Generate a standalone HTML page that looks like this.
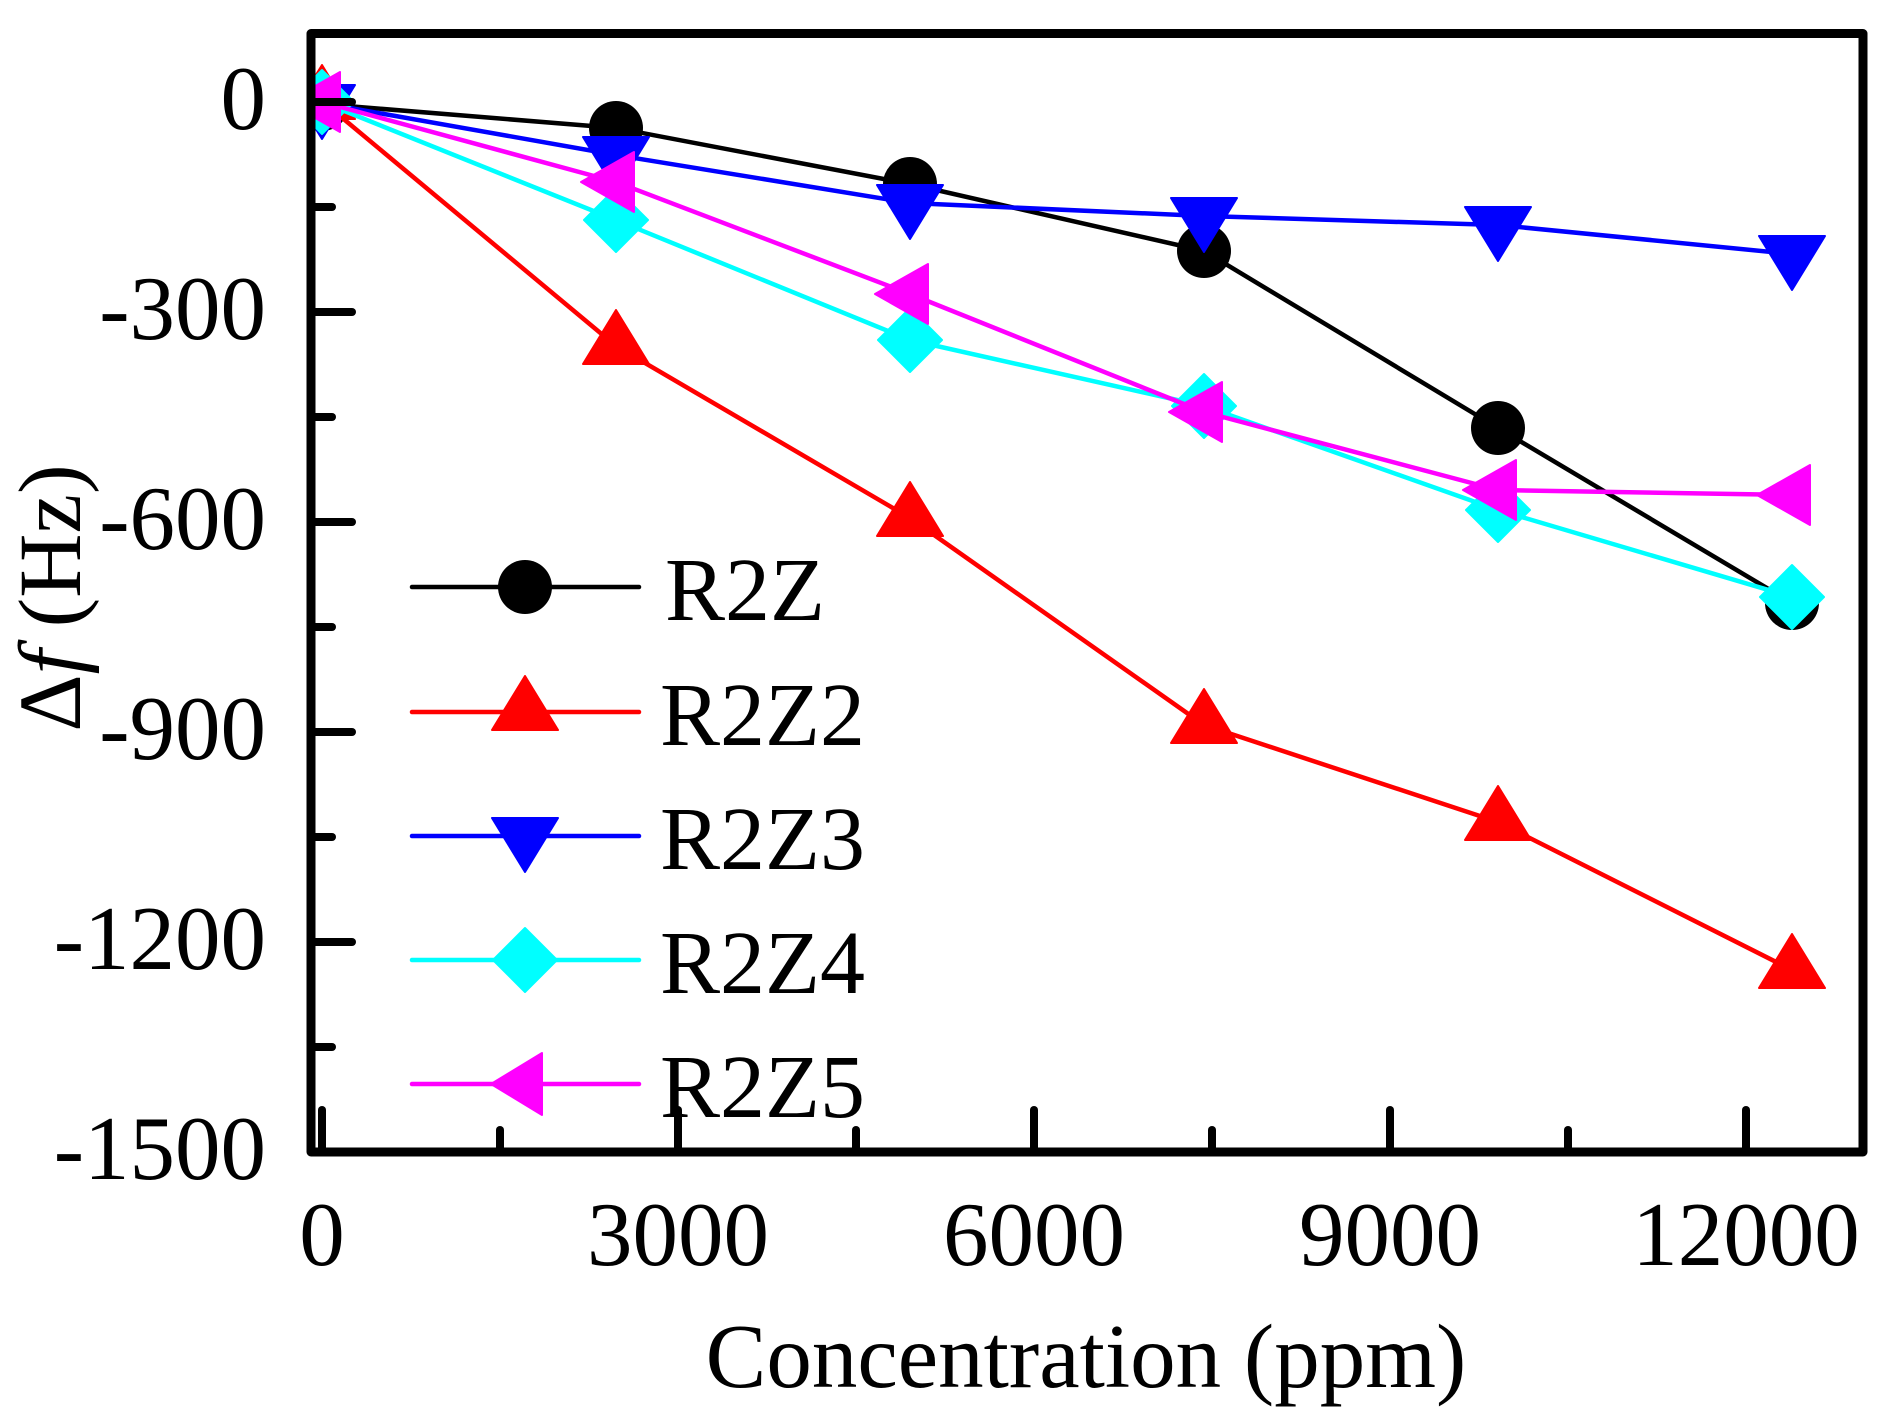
<!DOCTYPE html>
<html>
<head>
<meta charset="utf-8">
<style>
html,body{margin:0;padding:0;background:#fff;}
svg{display:block;}
text{font-family:"Liberation Serif","DejaVu Serif",serif;fill:#000;}
</style>
</head>
<body>
<svg xmlns="http://www.w3.org/2000/svg" width="1889" height="1423" viewBox="0 0 1889 1423">
<defs>
<clipPath id="pc"><rect x="315" y="38" width="1544" height="1110"/></clipPath>
</defs>
<rect x="0" y="0" width="1889" height="1423" fill="#fff"/>

<g clip-path="url(#pc)" stroke-linejoin="round" stroke-linecap="round">
<!-- R2Z black -->
<polyline points="322,104 616,128 910,184 1204,251 1498,428 1792,603" fill="none" stroke="#000" stroke-width="4.5"/>
<g fill="#000">
<circle cx="322" cy="104" r="27"/><circle cx="616" cy="128" r="27"/><circle cx="910" cy="184" r="27"/>
<circle cx="1204" cy="251" r="27"/><circle cx="1498" cy="428" r="27"/><circle cx="1792" cy="603" r="27"/>
</g>
<!-- R2Z2 red -->
<polyline points="322,101 616,346 910,518 1204,725 1498,822 1792,970" fill="none" stroke="#f00" stroke-width="4.5"/>
<g fill="#f00" stroke="#f00" stroke-width="2">
<polygon points="322,65 355,119 289,119"/>
<polygon points="616,310 649,364 583,364"/>
<polygon points="910,482 943,536 877,536"/>
<polygon points="1204,689 1237,743 1171,743"/>
<polygon points="1498,786 1531,840 1465,840"/>
<polygon points="1792,934 1825,988 1759,988"/>
</g>
<!-- R2Z3 blue -->
<polyline points="322,103 616,155 910,203 1204,216 1498,225 1792,254" fill="none" stroke="#00f" stroke-width="4.5"/>
<g fill="#00f" stroke="#00f" stroke-width="2">
<polygon points="289,85 355,85 322,139"/>
<polygon points="583,137 649,137 616,191"/>
<polygon points="877,185 943,185 910,239"/>
<polygon points="1171,198 1237,198 1204,252"/>
<polygon points="1465,207 1531,207 1498,261"/>
<polygon points="1759,236 1825,236 1792,290"/>
</g>
<!-- R2Z4 cyan -->
<polyline points="322,102 616,220 910,340 1204,406 1498,510 1792,597" fill="none" stroke="#0ff" stroke-width="4.5"/>
<g fill="#0ff" stroke="#0ff" stroke-width="2">
<polygon points="322,70 354,102 322,134 290,102"/>
<polygon points="616,188 648,220 616,252 584,220"/>
<polygon points="910,308 942,340 910,372 878,340"/>
<polygon points="1204,374 1236,406 1204,438 1172,406"/>
<polygon points="1498,478 1530,510 1498,542 1466,510"/>
<polygon points="1792,565 1824,597 1792,629 1760,597"/>
</g>
<!-- R2Z5 magenta -->
<polyline points="322,102 616,182 910,294 1204,412 1498,490 1792,495" fill="none" stroke="#f0f" stroke-width="4.5"/>
<g fill="#f0f" stroke="#f0f" stroke-width="2">
<polygon points="287,102 340,72 340,132"/>
<polygon points="581,182 634,152 634,212"/>
<polygon points="875,294 928,264 928,324"/>
<polygon points="1169,412 1222,382 1222,442"/>
<polygon points="1463,490 1516,460 1516,520"/>
<polygon points="1757,495 1810,465 1810,525"/>
</g>
</g>

<!-- axes frame -->
<rect x="311" y="33.5" width="1552" height="1118.5" fill="none" stroke="#000" stroke-width="9" stroke-linejoin="round"/>

<!-- y ticks -->
<g stroke="#000" stroke-width="8" stroke-linecap="round">
<line x1="313" y1="102" x2="352" y2="102"/>
<line x1="313" y1="312" x2="352" y2="312"/>
<line x1="313" y1="522" x2="352" y2="522"/>
<line x1="313" y1="732" x2="352" y2="732"/>
<line x1="313" y1="942" x2="352" y2="942"/>
<line x1="313" y1="207" x2="332" y2="207"/>
<line x1="313" y1="417" x2="332" y2="417"/>
<line x1="313" y1="627" x2="332" y2="627"/>
<line x1="313" y1="837" x2="332" y2="837"/>
<line x1="313" y1="1047" x2="332" y2="1047"/>
<!-- x ticks -->
<line x1="322" y1="1150" x2="322" y2="1110"/>
<line x1="678" y1="1150" x2="678" y2="1110"/>
<line x1="1034" y1="1150" x2="1034" y2="1110"/>
<line x1="1390" y1="1150" x2="1390" y2="1110"/>
<line x1="1746" y1="1150" x2="1746" y2="1110"/>
<line x1="500" y1="1150" x2="500" y2="1130"/>
<line x1="856" y1="1150" x2="856" y2="1130"/>
<line x1="1212" y1="1150" x2="1212" y2="1130"/>
<line x1="1568" y1="1150" x2="1568" y2="1130"/>
</g>

<!-- y tick labels -->
<g font-size="91" text-anchor="end">
<text x="266" y="129">0</text>
<text x="266" y="339">-300</text>
<text x="266" y="549">-600</text>
<text x="266" y="759">-900</text>
<text x="266" y="969">-1200</text>
<text x="266" y="1179">-1500</text>
</g>
<!-- x tick labels -->
<g font-size="91" text-anchor="middle">
<text x="322" y="1265">0</text>
<text x="678" y="1265">3000</text>
<text x="1034" y="1265">6000</text>
<text x="1390" y="1265">9000</text>
<text x="1746" y="1265">12000</text>
</g>

<!-- axis titles -->
<text x="1086" y="1387" font-size="91" text-anchor="middle">Concentration (ppm)</text>
<text transform="translate(80,598) rotate(-90)" font-size="89" text-anchor="middle">Δ<tspan font-style="italic">f</tspan> (Hz)</text>

<!-- legend -->
<g stroke-width="4.5" stroke-linecap="round">
<line x1="412" y1="587" x2="639" y2="587" stroke="#000"/>
<line x1="412" y1="712" x2="639" y2="712" stroke="#f00"/>
<line x1="412" y1="836" x2="639" y2="836" stroke="#00f"/>
<line x1="412" y1="960" x2="639" y2="960" stroke="#0ff"/>
<line x1="412" y1="1084" x2="639" y2="1084" stroke="#f0f"/>
</g>
<g stroke-linejoin="round" stroke-width="2">
<circle cx="525" cy="587" r="27" fill="#000"/>
<polygon points="525,676 558,730 492,730" fill="#f00" stroke="#f00"/>
<polygon points="492,818 558,818 525,872" fill="#00f" stroke="#00f"/>
<polygon points="525,928 557,960 525,992 493,960" fill="#0ff" stroke="#0ff"/>
<polygon points="491,1084 542,1053 542,1115" fill="#f0f" stroke="#f0f"/>
</g>
<g font-size="90">
<text x="665" y="620">R2Z</text>
<text x="660" y="745">R2Z2</text>
<text x="660" y="869">R2Z3</text>
<text x="660" y="993">R2Z4</text>
<text x="660" y="1117">R2Z5</text>
</g>
</svg>
</body>
</html>
